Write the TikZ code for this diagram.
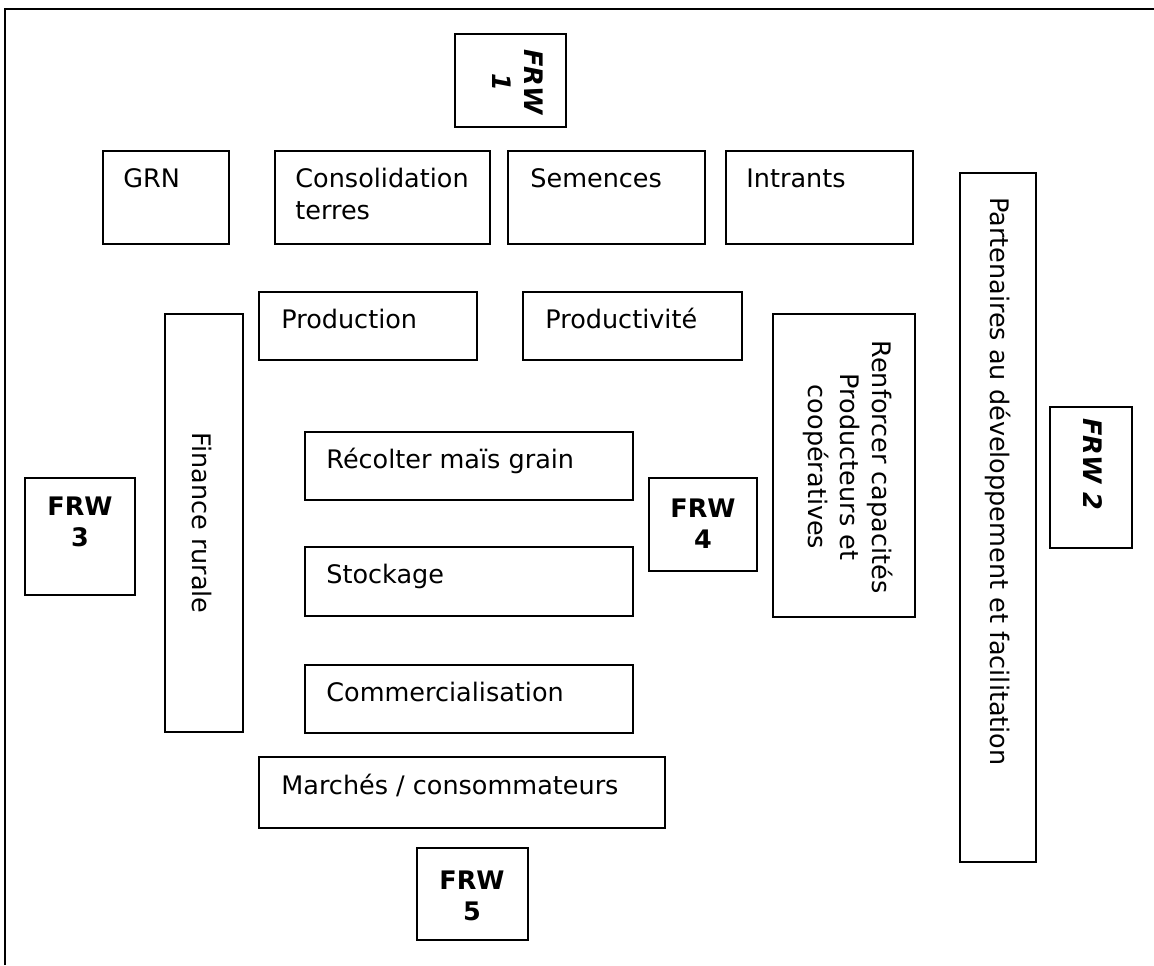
\documentclass[tikz,border=0pt]{standalone}
\usepackage{fontspec}
\setmainfont{DejaVu Sans}

\tikzset{
	box/.style={draw=black, line width=0.8pt},
	txt/.style={anchor=base west, inner sep=0pt, align=left},
	rtxt/.style={rotate=-90, inner sep=0pt},
	frw/.style={font=\fontsize{12.75}{15.5}\selectfont\bfseries, inner sep=0pt, align=center, anchor=base},
}

\begin{document}
\begin{tikzpicture}[x=0.5pt, y=-0.5pt, every node/.style={font=\fontsize{12.75}{16}\selectfont}]
				\useasboundingbox (0,0) rectangle (1154,965);
				% cadre
				\draw[line width=0.6pt] (5,965) -- (5,9) -- (1154,9);
				% rangee du haut
				\draw[box] (455,34) rectangle (566,127);
				\node[rtxt, align=center, font=\fontsize{12.75}{16}\selectfont\bfseries\itshape] (frw1) at (518,82) {FRW\\1};
				\draw[box] (103,151) rectangle (229,244);
				\node[txt] (grn) at (123,187) {GRN};
				\draw[box] (275,151) rectangle (490,244);
				\node[txt] (consolidation) at (295,219) {Consolidation\\terres};
				\draw[box] (508,151) rectangle (705,244);
				\node[txt] (semences) at (530,187) {Semences};
				\draw[box] (726,151) rectangle (913,244);
				\node[txt] (intrants) at (746,187) {Intrants};
				\draw[box] (960,173) rectangle (1036,862);
				\node[rtxt, anchor=west] (partenaires) at (998,197) {Partenaires au développement et facilitation};
				% production
				\draw[box] (259,292) rectangle (477,360);
				\node[txt] (production) at (281,328) {Production};
				\draw[box] (523,292) rectangle (742,360);
				\node[txt] (productivite) at (545,328) {Productivité};
				\draw[box] (165,314) rectangle (243,732);
				\node[rtxt] (finance) at (202,523) {Finance rurale};
				\draw[box] (773,314) rectangle (915,617);
				\node[rtxt, align=center] (renforcer) at (848,467) {Renforcer capacités\\Producteurs et\\coopératives};
				\draw[box] (1050,407) rectangle (1132,548);
				\node[rtxt, anchor=west, font=\fontsize{12.75}{16}\selectfont\bfseries\itshape] (frw2) at (1093,418) {FRW 2};
				% chaine
				\draw[box] (25,478) rectangle (135,595);
				\node[frw] (frw3) at (80,546) {FRW\\3};
				\draw[box] (305,432) rectangle (633,500);
				\node[txt] (recolter) at (326,468) {Récolter maïs grain};
				\draw[box] (649,478) rectangle (757,571);
				\node[frw] (frw4) at (703,548) {FRW\\4};
				\draw[box] (305,547) rectangle (633,616);
				\node[txt] (stockage) at (326,583) {Stockage};
				\draw[box] (305,665) rectangle (633,733);
				\node[txt] (commercialisation) at (326,701) {Commercialisation};
				\draw[box] (259,757) rectangle (665,828);
				\node[txt] (marches) at (281,794) {Marchés / consommateurs};
				\draw[box] (417,848) rectangle (528,940);
				\node[frw] (frw5) at (472,920) {FRW\\5};
\end{tikzpicture}
\end{document}
